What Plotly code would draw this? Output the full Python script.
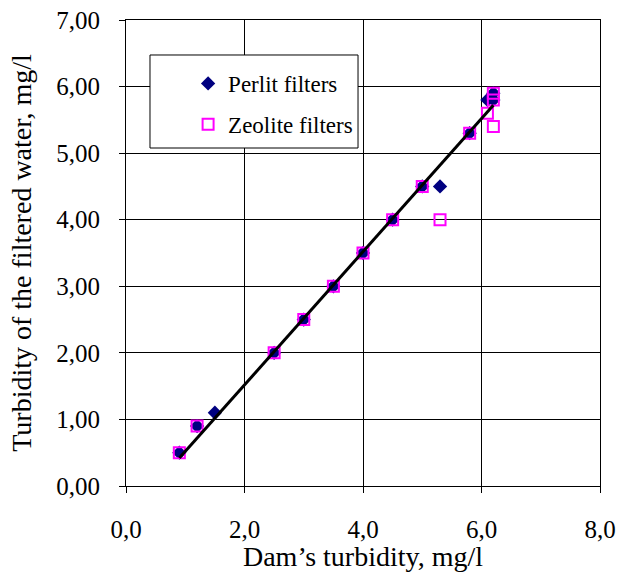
import numpy as np
import plotly.graph_objects as go

# Dam turbidity (x) vs filtered water turbidity (y), mg/l
perlit_x = [0.9, 1.2, 1.5, 2.5, 3.0, 3.5, 4.0, 4.5, 5.0, 5.3, 5.8, 6.1, 6.2, 6.2]
perlit_y = [0.5, 0.9, 1.1, 2.0, 2.5, 3.0, 3.5, 4.0, 4.5, 4.5, 5.3, 5.8, 5.8, 5.9]
zeolite_x = [0.9, 1.2, 2.5, 3.0, 3.5, 4.0, 4.5, 5.0, 5.3, 5.8, 6.1, 6.2, 6.2, 6.2]
zeolite_y = [0.5, 0.9, 2.0, 2.5, 3.0, 3.5, 4.0, 4.5, 4.0, 5.3, 5.6, 5.4, 5.8, 5.9]

# Linear trend line
trend_x = [0.9, 6.2]
trend_slope = 1.0
trend_intercept = -0.48
trend_y = (np.array(trend_x) * trend_slope + trend_intercept).tolist()

x_ticks = [0, 2, 4, 6, 8]
y_ticks = [0, 1, 2, 3, 4, 5, 6, 7]

FONT = "Liberation Serif"

fig = go.Figure()
fig.add_trace(go.Scatter(
    x=perlit_x, y=perlit_y, mode="markers", name="Perlit filters",
    legendgroup="perlit",
    marker=dict(symbol="diamond", size=11, color="#000080",
                line=dict(width=0)),
))
fig.add_trace(go.Scatter(
    x=zeolite_x, y=zeolite_y, mode="markers", name="Zeolite filters",
    legendgroup="zeolite",
    marker=dict(symbol="square-open", size=11, color="#FF00FF",
                line=dict(width=2, color="#FF00FF")),
))
fig.add_trace(go.Scatter(
    x=trend_x, y=trend_y, mode="lines", showlegend=False,
    line=dict(color="black", width=3),
))

axis_common = dict(
    showgrid=True, gridcolor="black", gridwidth=1,
    showline=True, linecolor="black", linewidth=1, mirror=True,
    ticks="outside", ticklen=6, tickcolor="black",
    zeroline=False, automargin=False,
    tickfont=dict(family=FONT, size=25, color="black"),
    title_font=dict(family=FONT, size=28, color="black"),
)

fig.update_xaxes(
    range=[0, 8], tickvals=x_ticks, tickformat=".1f",
    title_text="Dam’s turbidity, mg/l", title_standoff=4,
    ticklabelstandoff=15,
    **axis_common,
)
fig.update_yaxes(
    range=[0, 7], tickvals=y_ticks, tickformat=".2f",
    title_text="Turbidity of the filtered water, mg/l", title_standoff=16,
    ticklabelstandoff=14,
    **axis_common,
)

# Legend frame
fig.add_shape(
    type="rect", xref="paper", yref="paper",
    x0=0.0506, x1=0.4895, y0=0.7253, y1=0.9249,
    fillcolor="white", line=dict(color="black", width=1), layer="above",
)

fig.update_layout(
    width=622, height=572,
    margin=dict(l=126, r=22, t=20, b=86),
    plot_bgcolor="white", paper_bgcolor="white",
    separators=", ",
    font=dict(family=FONT, color="black"),
    legend=dict(
        x=0.131, y=0.910, xanchor="left", yanchor="top",
        bgcolor="rgba(0,0,0,0)", borderwidth=0,
        font=dict(family=FONT, size=23, color="black"),
        tracegroupgap=8,
    ),
)

fig.write_html("out.html")
